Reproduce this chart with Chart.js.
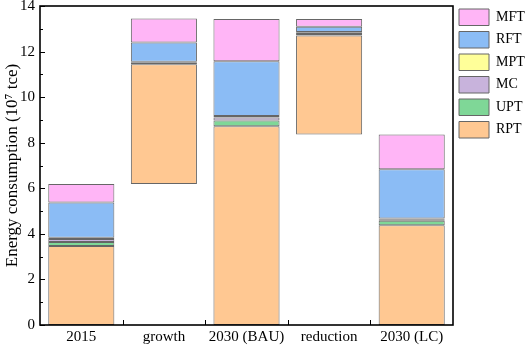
<!DOCTYPE html>
<html>
<head>
<title>Energy consumption decomposition</title>
<script src="https://cdn.jsdelivr.net/npm/chart.js"></script>
<style>
html, body { margin: 0; padding: 0; background: #fff; }
#chartContainer { width: 526px; height: 349px; }
</style>
</head>
<body>
  <div id="chartContainer">
    <canvas id="myChart"></canvas>
  </div>

  <script>
  const categories = ['2015', 'growth', '2030 (BAU)', 'reduction', '2030 (LC)'];
  // invisible offset that makes the growth / reduction bars float
  const base = [0, 6.19, 0, 8.36, 0];
  const RPT = [3.47, 5.25, 8.72, 4.34, 4.38];
  const UPT = [0.17, 0.09, 0.26, 0.07, 0.19];
  const MC  = [0.13, 0.01, 0.13, 0.06, 0.07];
  const MPT = [0.06, 0.01, 0.06, 0.03, 0.03];
  const RFT = [1.55, 0.85, 2.40, 0.23, 2.17];
  const MFT = [0.81, 1.05, 1.86, 0.34, 1.52];
  const yTicks = [0, 2, 4, 6, 8, 10, 12, 14];

  const edge = '#666666';
  const serif = 'Liberation Serif';

  function seg(label, data, color) {
    return {
      label: label,
      data: data,
      backgroundColor: color,
      borderColor: edge,
      borderWidth: 1,
      borderSkipped: false
    };
  }

  // frame + inward ticks, placed with the chart's own scales
  const framePlugin = {
    id: 'frame',
    afterDraw(chart) {
      const ctx = chart.ctx;
      const a = chart.chartArea;
      const x = chart.scales.x;
      const y = chart.scales.y;
      ctx.save();
      ctx.strokeStyle = '#000';
      ctx.lineWidth = 1;
      ctx.beginPath();
      for (let v = 0; v <= 14; v++) {
        const py = Math.round(y.getPixelForValue(v)) + 0.5;
        const len = v % 2 === 0 ? 5 : 3;
        ctx.moveTo(a.left, py);
        ctx.lineTo(a.left + len, py);
      }
      for (let i = 0; i < categories.length - 1; i++) {
        const px = Math.round((x.getPixelForValue(i) + x.getPixelForValue(i + 1)) / 2) + 0.5;
        ctx.moveTo(px, a.bottom);
        ctx.lineTo(px, a.bottom - 5);
      }
      ctx.stroke();
      ctx.lineWidth = 1.6;
      ctx.strokeRect(a.left, a.top, a.right - a.left, a.bottom - a.top);
      ctx.restore();
    }
  };

  const ctx = document.getElementById('myChart').getContext('2d');
  new Chart(ctx, {
    type: 'bar',
    data: {
      labels: categories,
      datasets: [
        { label: 'base', data: base, backgroundColor: 'rgba(0,0,0,0)', borderWidth: 0 },
        seg('RPT', RPT, '#ffc892'),
        seg('UPT', UPT, '#7fd797'),
        seg('MC', MC, '#c8b3dc'),
        seg('MPT', MPT, '#ffff99'),
        seg('RFT', RFT, '#8bbcf5'),
        seg('MFT', MFT, '#ffb5f6')
      ]
    },
    options: {
      responsive: true,
      maintainAspectRatio: false,
      animation: false,
      layout: { padding: { top: 3, left: 0, right: 0, bottom: 0 } },
      datasets: { bar: { categoryPercentage: 1, barPercentage: 0.8 } },
      plugins: {
        tooltip: { enabled: false },
        legend: {
          position: 'right',
          align: 'start',
          reverse: true,
          maxWidth: 73,
          labels: {
            boxWidth: 30,
            boxHeight: 16.5,
            padding: 6,
            color: '#000',
            font: { family: serif, size: 14 },
            filter: item => item.datasetIndex > 0
          }
        }
      },
      scales: {
        x: {
          stacked: true,
          grid: { display: false, drawTicks: false },
          border: { display: false },
          ticks: { color: '#000', padding: 3, font: { family: serif, size: 15 } }
        },
        y: {
          stacked: true,
          min: 0,
          max: 14,
          afterBuildTicks: scale => { scale.ticks = yTicks.map(v => ({ value: v })); },
          afterFit: scale => { scale.width = 40; scale.paddingTop = 6; scale.paddingBottom = 0; },
          grid: { display: false, drawTicks: false },
          border: { display: false },
          ticks: { color: '#000', padding: 5, font: { family: serif, size: 15 } },
          title: {
            display: true,
            text: 'Energy consumption (10\u2077 tce)',
            color: '#000',
            padding: { top: 2, bottom: 0 },
            font: { family: serif, size: 17 }
          }
        }
      }
    },
    plugins: [framePlugin]
  });
  </script>
</body>
</html>
